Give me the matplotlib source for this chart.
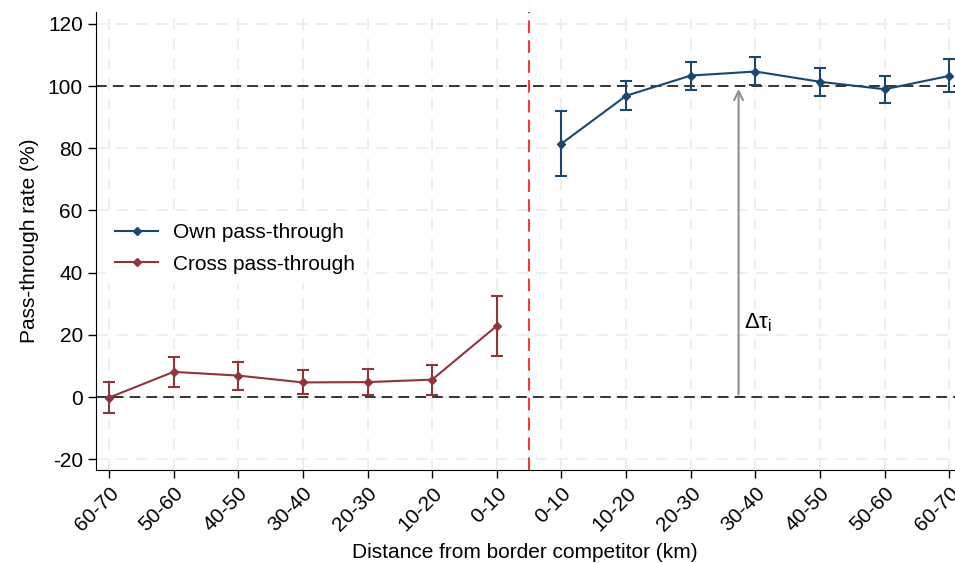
import matplotlib
matplotlib.use('Agg')
from matplotlib import pyplot as plt
import numpy as np

plt.rcParams['font.family'] = ['Liberation Sans', 'DejaVu Sans']
plt.rcParams['axes.unicode_minus'] = False

labels = ['60-70', '50-60', '40-50', '30-40', '20-30', '10-20', '0-10',
          '0-10', '10-20', '20-30', '30-40', '40-50', '50-60', '60-70']

cross_pos = [0, 1, 2, 3, 4, 5, 6]
cross_val = [-0.2, 8.1, 6.9, 4.7, 4.8, 5.6, 22.9]
cross_lo = [-5.1, 3.3, 2.3, 0.9, 0.6, 0.5, 13.2]
cross_hi = [4.9, 12.9, 11.4, 8.6, 9.0, 10.4, 32.4]

own_pos = [7, 8, 9, 10, 11, 12, 13]
own_val = [81.5, 96.9, 103.4, 104.7, 101.4, 99.0, 103.3]
own_lo = [71.1, 92.4, 98.9, 100.4, 96.9, 94.7, 98.0]
own_hi = [92.0, 101.5, 107.9, 109.3, 105.8, 103.3, 108.8]

own_color = '#1a476f'
cross_color = '#90353b'

fig = plt.figure(figsize=(9.55, 5.63), dpi=100)
ax = fig.add_axes([0.1005, 0.165, 0.899, 0.814])

# light grid
for x in range(14):
    ax.axvline(x, color='#ebebeb', lw=1.2, ls=(0, (7, 5)), zorder=0)
for y in range(-20, 121, 20):
    ax.axhline(y, color='#ebebeb', lw=1.2, ls=(0, (7, 5)), zorder=0)

ax.axhline(0, color='black', lw=1.1, ls=(0, (7, 4)), zorder=1)
ax.axhline(100, color='black', lw=1.1, ls=(0, (7, 4)), zorder=1)
ax.axvline(6.5, color='#ff2020', lw=1.3, ls=(0, (7, 4)), zorder=1)

def draw(pos, val, lo, hi, color, label):
    val = np.array(val)
    err = [val - np.array(lo), np.array(hi) - val]
    ax.errorbar(pos, val, yerr=err, color=color, lw=1.5, marker='D', ms=4,
                capsize=4, capthick=1.5, elinewidth=1.5, label=label, zorder=3)

draw(own_pos, own_val, own_lo, own_hi, own_color, 'Own pass-through')
draw(cross_pos, cross_val, cross_lo, cross_hi, cross_color, 'Cross pass-through')

# arrow for delta tau
ax.annotate('', xy=(9.74, 100), xytext=(9.74, 0),
            arrowprops=dict(arrowstyle='->', color='#909090', lw=1.5,
                            mutation_scale=16), zorder=2)
ax.text(9.82, 24, r'$\mathregular{\Delta\tau_i}$', fontsize=16, va='center', ha='left')

ax.set_xlim(-0.2, 13.08)
ax.set_ylim(-23.5, 123.9)
ax.set_xticks(range(14))
ax.set_xticklabels(labels, rotation=45, ha='right', rotation_mode='anchor', fontsize=15)
ax.set_yticks(range(-20, 121, 20))
ax.tick_params(axis='y', labelsize=15)
ax.tick_params(direction='out', length=6, width=1)
for s in ['top', 'right']:
    ax.spines[s].set_visible(False)

ax.set_ylabel('Pass-through rate (%)', fontsize=15, labelpad=6)
ax.set_xlabel('Distance from border competitor (km)', fontsize=15, labelpad=6)

handles, lbls = ax.get_legend_handles_labels()
handles = [h[0] for h in handles]
leg = ax.legend(handles, lbls, loc='upper left', bbox_to_anchor=(0.0, 0.58),
                fontsize=15, frameon=True, fancybox=False, edgecolor='white',
                framealpha=1, handlelength=2.1, handletextpad=0.7, labelspacing=0.6)

fig.savefig('out.png', dpi=100)
